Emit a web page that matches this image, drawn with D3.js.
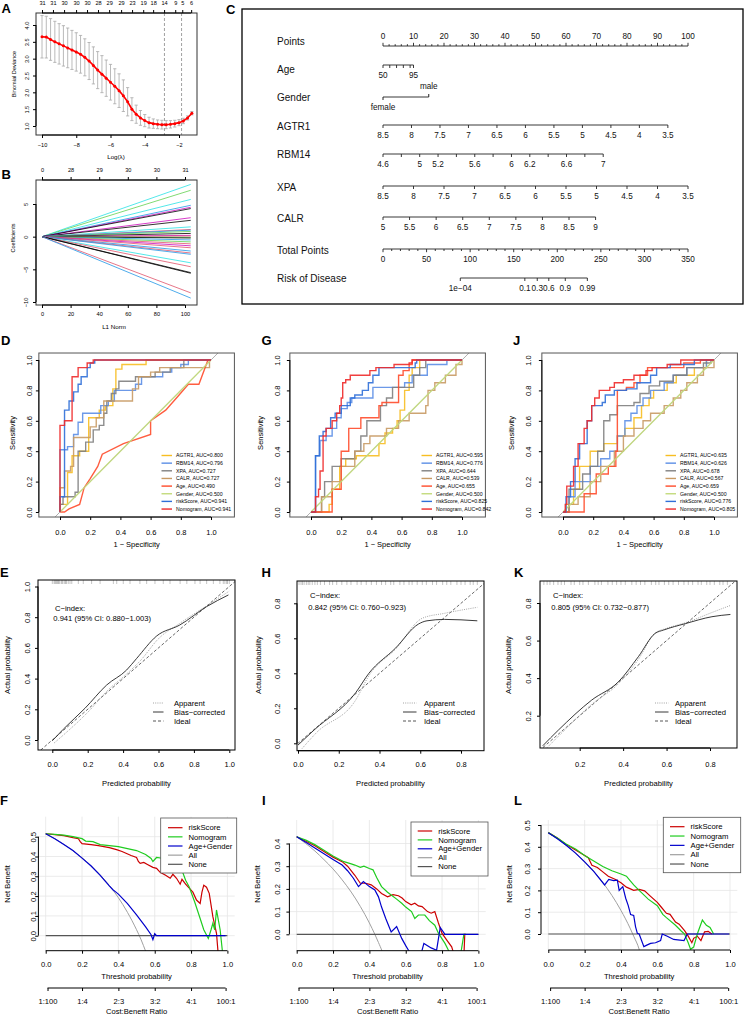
<!DOCTYPE html>
<html>
<head>
<meta charset="utf-8">
<script src="https://cdn.jsdelivr.net/npm/d3@7"></script>
<style>
  body { margin: 0; background: #fff; }
  svg { display: block; }
</style>
</head>
<body>
<script>
// ---------- A: cv.glmnet deviance ----------
const logLambda = [-10, -9.75, -9.5, -9.25, -9, -8.75, -8.5, -8.25, -8, -7.75, -7.5, -7.25, -7, -6.75, -6.5, -6.25, -6, -5.75,
  -5.5, -5.25, -5, -4.75, -4.5, -4.25, -4, -3.75, -3.5, -3.25, -3, -2.75, -2.5, -2.25, -2, -1.75, -1.5, -1.25];
const cvMean = [3.65, 3.64, 3.57, 3.5, 3.44, 3.38, 3.32, 3.26, 3.2, 3.13, 3.04, 2.93, 2.8, 2.66, 2.54, 2.42, 2.3, 2.18,
  2.05, 1.9, 1.72, 1.5, 1.35, 1.24, 1.16, 1.1, 1.07, 1.05, 1.04, 1.04, 1.05, 1.07, 1.1, 1.15, 1.24, 1.38];
const cvSe = [0.63, 0.62, 0.62, 0.61, 0.6, 0.6, 0.59, 0.58, 0.57, 0.56, 0.55, 0.55, 0.55, 0.55, 0.55, 0.54, 0.53, 0.52,
  0.5, 0.47, 0.42, 0.34, 0.27, 0.22, 0.18, 0.16, 0.14, 0.13, 0.13, 0.12, 0.11, 0.1, 0.09, 0.08, 0.06, 0.05];
const lambdaCut = [-2.85, -1.85];
const topLambda = [-10, -9.36, -8.71, -8.01, -7.37, -6.73, -6.08, -5.38, -4.74, -4.09, -3.51, -2.87, -2.22, -1.81, -1.29];
const topCounts = [31, 31, 30, 30, 30, 28, 29, 29, 23, 19, 18, 14, 9, 5, 6];

// ---------- B: coefficient paths ----------
const l1Ticks = [0, 20, 40, 60, 80, 100];
const l1Counts = [0, 28, 29, 30, 30, 31];
const coefEnd = [8.0, 7.1, 5.7, 4.8, 4.5, 4.3, 2.9, 2.5, 1.5, 1.1, 1.0, 0.8, 0.5, 0.2, 0.1, -0.1, -0.2, -0.5, -0.8, -1.1,
  -1.4, -1.7, -2.2, -2.5, -2.7, -4.0, -4.6, -5.5, -5.6, -8.6, -9.4];
const coefColIdx = [4, 2, 4, 3, 5, 0, 5, 0, 4, 1, 3, 2, 0, 5, 1, 2, 0, 3, 2, 1, 5, 1, 3, 1, 3, 4, 1, 0, 0, 1, 3];
const maxL1 = 104;

// ---------- C: nomogram ----------
const nomoRows = ["Points", "Age", "Gender", "AGTR1", "RBM14", "XPA", "CALR", "Total Points", "Risk of Disease"];
const pointsMajor = [0, 10, 20, 30, 40, 50, 60, 70, 80, 90, 100];
const pointsMinor = [2, 4, 6, 8, 12, 14, 16, 18, 22, 24, 26, 28, 32, 34, 36, 38, 42, 44, 46, 48, 52, 54, 56, 58,
  62, 64, 66, 68, 72, 74, 76, 78, 82, 84, 86, 88, 92, 94, 96, 98];
const ageTicks = [50, 60, 70, 80, 90, 95], ageLabels = [50, 95], agePts = [0, 10];
const genderLevels = ["female", "male"], genderPts = [0, 15];
const agtr1Ticks = [8.5, 8, 7.5, 7, 6.5, 6, 5.5, 5, 4.5, 4, 3.5], agtr1Pts = [0, 93.4];
const rbm14Ticks = [4.6, 4.8, 5, 5.2, 5.4, 5.6, 5.8, 6, 6.2, 6.4, 6.6, 6.8, 7];
const rbm14Labels = [4.6, 5, 5.2, 5.6, 6, 6.2, 6.6, 7], rbm14Pts = [0, 72.2];
const xpaTicks = [8.5, 8, 7.5, 7, 6.5, 6, 5.5, 5, 4.5, 4, 3.5], xpaPts = [0, 100];
const calrTicks = [5, 5.5, 6, 6.5, 7, 7.5, 8, 8.5, 9], calrPts = [0, 69.7];
const totalMajor = [0, 50, 100, 150, 200, 250, 300, 350];
const totalMinor = [10, 20, 30, 40, 60, 70, 80, 90, 110, 120, 130, 140, 160, 170, 180, 190, 210, 220, 230, 240,
  260, 270, 280, 290, 310, 320, 330, 340];
const riskTicks = [1e-4, 0.1, 0.3, 0.6, 0.9, 0.99];
const riskLabels = ["1e\u221204", "0.1", "0.3", "0.6", "0.9", "0.99"];
const riskPts = [88.7, 234.5];   // total points at risk 1e-04 and 0.99

// ---------- D / G / J: ROC ----------
const rocNames = ["AGTR1", "RBM14", "XPA", "CALR", "Age", "Gender", "riskScore", "Nomogram"];
const rocColors = ["#F7BE22", "#5C8EE6", "#808080", "#C89A64", "#FF4B2B", "#C3DB7C", "#2F6FD8", "#EE2A2A"];
const aucD = ["0.800", "0.796", "0.727", "0.727", "0.490", "0.500", "0.941", "0.941"];
const aucG = ["0.595", "0.776", "0.644", "0.539", "0.655", "0.500", "0.825", "0.842"];
const aucJ = ["0.635", "0.626", "0.678", "0.567", "0.659", "0.500", "0.776", "0.805"];
const rocD = [
  [[0,0],[0,0.05],[0.05,0.26],[0.08,0.37],[0.13,0.4],[0.19,0.62],[0.26,0.67],[0.3,0.7],[0.35,0.81],[0.37,0.94],[0.41,0.97],[0.57,1],[1,1]],
  [[0,0],[0,0.41],[0.05,0.43],[0.09,0.51],[0.12,0.59],[0.15,0.65],[0.27,0.7],[0.32,0.73],[0.36,0.8],[0.5,0.84],[0.54,0.89],[0.68,0.92],[0.74,0.95],[0.8,0.97],[0.85,1],[1,1]],
  [[0,0],[0,0.05],[0.02,0.1],[0.1,0.13],[0.12,0.4],[0.17,0.46],[0.22,0.54],[0.26,0.57],[0.29,0.65],[0.31,0.73],[0.34,0.78],[0.37,0.81],[0.39,0.86],[0.5,0.89],[0.63,0.92],[0.73,0.95],[0.82,1],[1,1]],
  [[0,0],[0,0.16],[0.03,0.27],[0.07,0.3],[0.09,0.49],[0.2,0.56],[0.24,0.62],[0.29,0.73],[0.48,0.81],[0.52,0.89],[0.6,0.92],[0.66,0.95],[0.99,1],[1,1]],
  [[0,0],[0.03,0],[0.06,0.02],[0.13,0.05],[0.16,0.16],[0.2,0.22],[0.25,0.3],[0.28,0.38],[0.42,0.45],[0.6,0.51],[0.6,0.6],[0.7,0.67],[0.78,0.76],[0.85,0.84],[0.92,0.84],[0.98,1],[1,1]],
  [[0,0],[1,1]],
  [[0,0],[0,0.1],[0.03,0.67],[0.06,0.73],[0.09,0.79],[0.12,0.84],[0.14,0.89],[0.18,0.95],[0.2,0.98],[0.23,1],[1,1]],
  [[0,0],[0,0.57],[0.03,0.6],[0.08,0.89],[0.12,0.95],[0.18,0.98],[0.22,1],[1,1]]
];
const rocG = [
  [[0,0],[0.12,0.05],[0.14,0.15],[0.19,0.3],[0.23,0.35],[0.3,0.37],[0.45,0.45],[0.49,0.52],[0.54,0.55],[0.57,0.6],[0.59,0.67],[0.62,0.8],[0.65,0.9],[0.67,0.95],[0.72,1],[1,1]],
  [[0,0],[0.03,0.37],[0.06,0.47],[0.1,0.5],[0.14,0.55],[0.17,0.62],[0.2,0.68],[0.24,0.72],[0.27,0.75],[0.41,0.82],[0.62,0.85],[0.67,0.9],[0.77,0.97],[0.9,1],[1,1]],
  [[0,0],[0.07,0.1],[0.09,0.2],[0.14,0.3],[0.2,0.35],[0.29,0.4],[0.33,0.5],[0.37,0.6],[0.46,0.7],[0.5,0.75],[0.54,0.82],[0.68,0.9],[0.72,0.95],[0.76,1],[1,1]],
  [[0,0],[0.07,0.1],[0.14,0.2],[0.2,0.3],[0.29,0.4],[0.35,0.45],[0.39,0.5],[0.5,0.55],[0.58,0.6],[0.65,0.65],[0.76,0.7],[0.775,0.8],[0.82,0.85],[0.89,0.9],[0.96,0.97],[1,1]],
  [[0,0],[0.14,0.15],[0.2,0.4],[0.25,0.55],[0.33,0.62],[0.45,0.7],[0.47,0.72],[0.58,0.9],[0.61,0.93],[0.65,0.97],[0.67,1],[1,1]],
  [[0,0],[1,1]],
  [[0,0],[0.03,0.37],[0.055,0.5],[0.08,0.53],[0.1,0.55],[0.13,0.62],[0.16,0.65],[0.2,0.7],[0.26,0.75],[0.29,0.77],[0.34,0.8],[0.38,0.85],[0.41,0.9],[0.45,0.95],[0.69,0.98],[0.7,1],[1,1]],
  [[0,0],[0.03,0.1],[0.05,0.15],[0.06,0.27],[0.08,0.5],[0.1,0.55],[0.14,0.6],[0.17,0.65],[0.19,0.7],[0.2,0.75],[0.21,0.85],[0.23,0.87],[0.26,0.9],[0.39,0.93],[0.43,0.95],[0.55,0.97],[0.65,0.98],[0.67,1],[1,1]]
];
const rocJ = [
  [[0,0],[0.02,0.05],[0.07,0.15],[0.11,0.3],[0.18,0.4],[0.27,0.45],[0.36,0.5],[0.41,0.55],[0.47,0.62],[0.52,0.7],[0.57,0.75],[0.6,0.8],[0.69,0.85],[0.75,0.9],[0.87,0.95],[0.95,1],[1,1]],
  [[0,0],[0.04,0.1],[0.08,0.2],[0.18,0.3],[0.25,0.35],[0.31,0.4],[0.36,0.5],[0.41,0.6],[0.45,0.65],[0.49,0.7],[0.53,0.75],[0.58,0.8],[0.67,0.85],[0.73,0.9],[0.82,0.95],[0.95,1],[1,1]],
  [[0,0],[0.04,0.15],[0.13,0.25],[0.18,0.3],[0.23,0.4],[0.27,0.6],[0.31,0.64],[0.36,0.7],[0.47,0.72],[0.51,0.78],[0.57,0.83],[0.64,0.86],[0.73,0.9],[0.82,0.95],[0.93,0.98],[0.98,1],[1,1]],
  [[0,0],[0.04,0.05],[0.1,0.1],[0.18,0.2],[0.25,0.3],[0.34,0.4],[0.4,0.5],[0.47,0.55],[0.53,0.6],[0.58,0.65],[0.67,0.7],[0.73,0.75],[0.78,0.8],[0.82,0.85],[0.89,0.9],[0.93,0.95],[1,1]],
  [[0,0],[0.14,0.12],[0.22,0.25],[0.3,0.3],[0.35,0.4],[0.36,0.8],[0.42,0.82],[0.47,0.85],[0.51,0.9],[0.56,0.95],[0.8,0.98],[0.91,1],[1,1]],
  [[0,0],[1,1]],
  [[0,0],[0.02,0.1],[0.05,0.2],[0.08,0.35],[0.11,0.45],[0.16,0.6],[0.19,0.7],[0.26,0.72],[0.28,0.77],[0.34,0.8],[0.42,0.81],[0.49,0.85],[0.58,0.9],[0.62,0.95],[0.71,0.97],[0.87,1],[1,1]],
  [[0,0],[0.015,0.05],[0.025,0.17],[0.07,0.3],[0.1,0.45],[0.14,0.55],[0.16,0.6],[0.19,0.7],[0.21,0.75],[0.24,0.8],[0.31,0.82],[0.34,0.85],[0.4,0.87],[0.47,0.9],[0.55,0.93],[0.59,0.95],[0.69,0.97],[0.78,1],[1,1]]
];

// ---------- E / H / K: calibration ----------
const calE_app = [[0.01,-0.02],[0.08,0.05],[0.2,0.18],[0.31,0.32],[0.42,0.43],[0.5,0.52],[0.6,0.66],[0.72,0.76],[0.88,0.88],[1.0,0.97]];
const calE_bias = [[0.0,-0.005],[0.062,0.07],[0.185,0.207],[0.307,0.358],[0.42,0.456],[0.477,0.532],[0.59,0.678],[0.72,0.749],[0.872,0.869],[0.995,0.945]];
const rugE = [0.0, 0.01, 0.015, 0.02, 0.025, 0.03, 0.035, 0.04, 0.05, 0.055, 0.06, 0.07, 0.075, 0.08, 0.09, 0.1, 0.11, 0.147,
  0.175, 0.222, 0.27, 0.345, 0.364, 0.401, 0.439, 0.495, 0.533, 0.58, 0.627, 0.665, 0.722, 0.76, 0.806, 0.835, 0.872,
  0.91, 0.947, 0.966, 0.975, 0.985, 0.99, 1.0];
const calH_app = [[0.02,-0.03],[0.09,0.06],[0.283,0.247],[0.35,0.39],[0.48,0.54],[0.609,0.714],[0.72,0.743],[0.88,0.777]];
const calH_bias = [[0.0,-0.01],[0.079,0.076],[0.283,0.289],[0.348,0.4],[0.478,0.543],[0.592,0.682],[0.633,0.7],[0.72,0.708],[0.88,0.7]];
const rugH = [0.005, 0.015, 0.022, 0.03, 0.041, 0.05, 0.058, 0.07, 0.083, 0.095, 0.11, 0.13, 0.155, 0.17, 0.19, 0.215, 0.24,
  0.26, 0.29, 0.31, 0.335, 0.36, 0.385, 0.41, 0.43, 0.455, 0.47, 0.5, 0.52, 0.545, 0.56, 0.585, 0.61, 0.63, 0.66, 0.68,
  0.71, 0.73, 0.75, 0.78, 0.8, 0.82, 0.845, 0.86, 0.88];
const calK_app = [[0.05,0.03],[0.11,0.1],[0.255,0.26],[0.378,0.37],[0.47,0.5],[0.547,0.64],[0.6,0.665],[0.7,0.7],[0.81,0.75],[0.894,0.787]];
const calK_bias = [[0.03,0.04],[0.1015,0.123],[0.255,0.283],[0.378,0.38],[0.47,0.514],[0.547,0.638],[0.586,0.656],[0.686,0.69],[0.809,0.727],[0.894,0.739]];
const rugK = [0.035, 0.05, 0.063, 0.08, 0.1, 0.115, 0.13, 0.16, 0.175, 0.2, 0.215, 0.24, 0.27, 0.285, 0.3, 0.33, 0.35, 0.37,
  0.39, 0.41, 0.44, 0.46, 0.48, 0.5, 0.53, 0.55, 0.565, 0.59, 0.61, 0.63, 0.655, 0.68, 0.7, 0.72, 0.745, 0.76, 0.785,
  0.8, 0.82, 0.845, 0.86, 0.88];

// ---------- F / I / L: decision curves ----------
const dcaNames = ["riskScore", "Nomogram", "Age+Gender", "All", "None"];
const dcaColors = ["#CC0000", "#1FCC1F", "#0000CC", "#A0A0A0", "#555555"];
const cbTicks = [0.01, 0.2, 0.4, 0.6, 0.8, 0.99];
const cbLabels = ["1:100", "1:4", "2:3", "3:2", "4:1", "100:1"];
const dcaF_risk = [[0,0.515],[0.05,0.51],[0.1,0.505],[0.15,0.495],[0.18,0.49],[0.19,0.475],[0.2,0.465],[0.25,0.46],[0.29,0.455],
  [0.35,0.445],[0.39,0.435],[0.42,0.425],[0.445,0.415],[0.47,0.405],[0.5,0.395],[0.51,0.375],[0.52,0.365],[0.54,0.37],[0.56,0.36],
  [0.59,0.345],[0.61,0.34],[0.63,0.32],[0.66,0.305],[0.685,0.29],[0.7,0.31],[0.72,0.29],[0.74,0.26],[0.75,0.285],[0.77,0.26],
  [0.79,0.24],[0.81,0.22],[0.83,0.18],[0.85,0.163],[0.86,0.22],[0.87,0.255],[0.885,0.245],[0.9,0.214],[0.92,0.096],[0.94,0.012],[0.95,-0.1]];
const dcaF_nomo = [[0,0.515],[0.05,0.512],[0.1,0.508],[0.15,0.5],[0.2,0.49],[0.22,0.478],[0.26,0.475],[0.3,0.46],[0.35,0.455],
  [0.4,0.45],[0.45,0.44],[0.5,0.43],[0.55,0.41],[0.58,0.39],[0.59,0.375],[0.61,0.395],[0.65,0.39],[0.7,0.37],[0.72,0.36],
  [0.75,0.33],[0.77,0.28],[0.79,0.246],[0.82,0.17],[0.85,0.087],[0.87,0.03],[0.895,-0.014],[0.91,0.03],[0.92,0.063],[0.93,0.03],
  [0.94,0.13],[0.96,0.03],[0.975,-0.1]];
const dcaF_age = [[0,0.515],[0.05,0.49],[0.1,0.461],[0.15,0.43],[0.2,0.392],[0.25,0.352],[0.3,0.305],[0.35,0.252],[0.37,0.232],
  [0.38,0.225],[0.4,0.21],[0.45,0.162],[0.5,0.105],[0.55,0.045],[0.58,0.005],[0.59,-0.02],[0.6,0.01],[0.61,0.0],[0.99,0.0]];
const dcaF_all = [[0,0.515],[0.05,0.49],[0.1,0.461],[0.15,0.429],[0.2,0.394],[0.25,0.353],[0.3,0.307],[0.35,0.254],[0.4,0.192],
  [0.45,0.118],[0.5,0.03],[0.525,-0.02],[0.55,-0.078],[0.56,-0.1]];
const dcaI_risk = [[0,0.43],[0.05,0.41],[0.1,0.39],[0.15,0.365],[0.2,0.34],[0.25,0.32],[0.28,0.3],[0.32,0.26],[0.35,0.225],
  [0.38,0.225],[0.41,0.218],[0.44,0.2],[0.467,0.18],[0.5,0.165],[0.53,0.175],[0.56,0.17],[0.58,0.16],[0.6,0.144],[0.63,0.13],
  [0.65,0.137],[0.67,0.125],[0.69,0.122],[0.72,0.1],[0.74,0.093],[0.76,0.1],[0.78,0.05],[0.8,0.004],[0.83,-0.03],[0.853,-0.055],
  [0.87,-0.1],[0.92,-0.1],[0.925,0],[0.93,0]];
const dcaI_nomo = [[0,0.43],[0.05,0.415],[0.1,0.395],[0.15,0.37],[0.2,0.345],[0.26,0.32],[0.3,0.31],[0.32,0.305],[0.35,0.295],
  [0.37,0.3],[0.4,0.29],[0.42,0.284],[0.44,0.25],[0.467,0.21],[0.5,0.185],[0.52,0.173],[0.55,0.155],[0.578,0.137],[0.6,0.12],
  [0.632,0.1],[0.65,0.07],[0.67,0.085],[0.705,0.085],[0.73,0.06],[0.76,0.04],[0.78,0.005],[0.8,-0.02],[0.816,-0.04],[0.835,-0.07],
  [0.85,-0.1],[0.9,-0.1],[0.92,0],[0.93,0]];
const dcaI_age = [[0,0.43],[0.05,0.405],[0.1,0.38],[0.15,0.355],[0.2,0.33],[0.25,0.305],[0.28,0.28],[0.312,0.247],[0.34,0.21],
  [0.367,0.232],[0.4,0.21],[0.43,0.195],[0.45,0.165],[0.467,0.12],[0.49,0.07],[0.52,0.01],[0.55,0.034],[0.578,-0.018],
  [0.6,-0.05],[0.615,-0.07],[0.64,-0.1],[0.68,-0.1],[0.7,-0.04],[0.74,-0.06],[0.77,-0.07],[0.79,0.03],[0.816,0],[1.0,0]];
const dcaI_all = [[0,0.43],[0.05,0.4],[0.1,0.367],[0.15,0.329],[0.2,0.288],[0.25,0.24],[0.3,0.186],[0.35,0.123],[0.4,0.05],
  [0.43,0.0],[0.45,-0.036],[0.47,-0.075],[0.48,-0.1]];
const dcaL_risk = [[0,0.465],[0.05,0.44],[0.1,0.41],[0.15,0.385],[0.2,0.36],[0.22,0.35],[0.24,0.315],[0.27,0.305],[0.3,0.285],
  [0.33,0.265],[0.37,0.25],[0.4,0.235],[0.43,0.215],[0.47,0.2],[0.5,0.205],[0.53,0.198],[0.56,0.175],[0.6,0.145],[0.62,0.125],
  [0.65,0.095],[0.67,0.09],[0.7,0.055],[0.72,0.045],[0.75,0.015],[0.77,-0.01],[0.79,-0.04],[0.8,-0.02],[0.82,-0.01],[0.84,-0.03],
  [0.86,0.01],[0.88,0.012],[0.9,0.0]];
const dcaL_nomo = [[0,0.465],[0.05,0.44],[0.1,0.412],[0.15,0.39],[0.2,0.36],[0.25,0.335],[0.3,0.31],[0.35,0.29],[0.4,0.275],
  [0.43,0.265],[0.45,0.245],[0.47,0.225],[0.5,0.2],[0.55,0.16],[0.6,0.13],[0.63,0.09],[0.65,0.075],[0.7,0.04],[0.73,0.015],
  [0.75,0.0],[0.77,-0.04],[0.783,-0.07],[0.8,-0.06],[0.82,0.0],[0.848,0.064],[0.87,0.04],[0.89,0.03],[0.91,0.0]];
const dcaL_age = [[0,0.465],[0.05,0.437],[0.1,0.406],[0.15,0.371],[0.2,0.331],[0.25,0.287],[0.31,0.225],[0.333,0.25],[0.36,0.245],
  [0.38,0.247],[0.39,0.2],[0.41,0.217],[0.426,0.164],[0.44,0.13],[0.453,0.089],[0.47,0.085],[0.48,0.034],[0.49,0.003],[0.5,0.0],
  [0.526,-0.058],[0.545,-0.05],[0.563,-0.043],[0.59,-0.04],[0.618,-0.03],[0.627,0.0],[0.655,-0.01],[0.69,-0.025],[0.747,-0.03],
  [0.765,0.0],[0.995,0.0]];
const dcaL_all = [[0,0.465],[0.05,0.437],[0.1,0.406],[0.15,0.371],[0.2,0.331],[0.25,0.287],[0.3,0.236],[0.35,0.177],[0.4,0.108],
  [0.45,0.027],[0.47,-0.01],[0.5,-0.07],[0.51,-0.1]];

// ================= drawing =================
const FONT = "'Liberation Sans', Arial, Helvetica, sans-serif";
const svg = d3.select("body").append("svg")
  .attr("width", 744).attr("height", 1015)
  .attr("font-family", FONT);
const f1 = d3.format(".1f");

function label(g, x, y, s, size, anchor = "middle") {
  return g.append("text").attr("x", x).attr("y", y).attr("dy", "0.35em")
    .attr("font-size", size).attr("text-anchor", anchor).text(s);
}
function vlabel(g, x, y, s, size) {
  return g.append("text").attr("transform", `translate(${x},${y}) rotate(-90)`)
    .attr("dy", "0.35em").attr("font-size", size).attr("text-anchor", "middle").text(s);
}
function box(g, x0, y0, x1, y1, col, w = 1) {
  g.append("rect").attr("x", x0).attr("y", y0).attr("width", x1 - x0).attr("height", y1 - y0)
    .attr("fill", "none").attr("stroke", col).attr("stroke-width", w);
}
function clip(id, x0, y0, x1, y1) {
  svg.append("clipPath").attr("id", id).append("rect")
    .attr("x", x0).attr("y", y0).attr("width", x1 - x0).attr("height", y1 - y0);
  return `url(#${id})`;
}
// R style axes: line only between first and last tick
function axisH(g, scale, y, ticks, fmt, size, labelY, top = false, col = "#000") {
  const ax = (top ? d3.axisTop(scale) : d3.axisBottom(scale)).tickValues(ticks).tickSize(3).tickFormat(fmt);
  const ag = g.append("g").attr("transform", `translate(0,${y})`).call(ax)
    .attr("font-size", size).attr("font-family", FONT);
  ag.select(".domain").remove();
  ag.append("line").attr("x1", scale(ticks[0])).attr("x2", scale(ticks[ticks.length - 1])).attr("stroke", col);
  ag.selectAll(".tick line").attr("stroke", col);
  ag.selectAll(".tick text").attr("y", labelY - y).attr("dy", "0.35em").attr("fill", "#000");
  return ag;
}
function axisV(g, scale, x, ticks, fmt, size, labelX, col = "#000") {
  const ag = g.append("g").attr("transform", `translate(${x},0)`)
    .call(d3.axisLeft(scale).tickValues(ticks).tickSize(3).tickFormat(fmt))
    .attr("font-size", size).attr("font-family", FONT);
  ag.select(".domain").remove();
  ag.append("line").attr("y1", scale(ticks[0])).attr("y2", scale(ticks[ticks.length - 1])).attr("stroke", col);
  ag.selectAll(".tick line").attr("stroke", col);
  ag.selectAll(".tick text").attr("x", null).attr("dy", "0.35em").attr("text-anchor", "middle")
    .attr("transform", `translate(${labelX - x},0) rotate(-90)`).attr("fill", "#000");
  return ag;
}
function panelLetter(x, y, s) {
  label(svg, x, y, s, 13, "start").attr("font-weight", "bold");
}

// ---------- Panel A ----------
{
  const g = svg.append("g");
  const x = d3.scaleLinear().domain([-10, -2]).range([42, 179]);
  const y = d3.scaleLinear().domain([1, 4]).range([126, 25]);
  lambdaCut.forEach(v => g.append("line").attr("x1", x(v)).attr("x2", x(v)).attr("y1", 13).attr("y2", 135)
    .attr("stroke", "#777").attr("stroke-width", 0.7).attr("stroke-dasharray", "3,2"));
  const rows = logLambda.map((l, i) => ({ l, m: cvMean[i], s: cvSe[i] }));
  g.selectAll("line.eb").data(rows).join("line").attr("class", "eb")
    .attr("x1", d => x(d.l)).attr("x2", d => x(d.l))
    .attr("y1", d => y(d.m - d.s)).attr("y2", d => y(d.m + d.s))
    .attr("stroke", "#A8A8A8").attr("stroke-width", 0.8);
  ["lo", "hi"].forEach(k => g.selectAll("line.cap" + k).data(rows).join("line").attr("class", "cap" + k)
    .attr("x1", d => x(d.l) - 1.6).attr("x2", d => x(d.l) + 1.6)
    .attr("y1", d => y(k === "lo" ? d.m - d.s : d.m + d.s)).attr("y2", d => y(k === "lo" ? d.m - d.s : d.m + d.s))
    .attr("stroke", "#A8A8A8").attr("stroke-width", 0.8));
  g.append("path").attr("d", d3.line().x(d => x(d.l)).y(d => y(d.m))(rows))
    .attr("fill", "none").attr("stroke", "#FF0000").attr("stroke-width", 1.6);
  g.selectAll("circle").data(rows).join("circle")
    .attr("cx", d => x(d.l)).attr("cy", d => y(d.m)).attr("r", 1.5).attr("fill", "#FF0000");
  box(g, 36, 13, 197, 135, "#333");
  axisH(g, x, 135, [-10, -8, -6, -4, -2], d3.format("d"), 5.6, 145);
  axisV(g, y, 36, [1, 1.5, 2, 2.5, 3, 3.5, 4], f1, 5.6, 27);
  axisH(g, x, 13, topLambda, (d, i) => topCounts[i], 5.6, 3, true);
  label(g, 116, 157, "Log(\u03bb)", 6.2);
  vlabel(g, 14, 74, "Binomial Deviance", 5.6);
  panelLetter(1.5, 8.5, "A");
}

// ---------- Panel B ----------
{
  const g = svg.append("g");
  const x = d3.scaleLinear().domain([0, 100]).range([42, 185]);
  const y = d3.scaleLinear().domain([-10, 5]).range([302, 204]);
  const pal = ["#000000", "#DF536B", "#61D04F", "#2297E6", "#28E2E5", "#CD0BBC"];
  const cp = clip("clipB", 36, 180, 197, 305);
  const line = d3.line().x(d => x(d[0])).y(d => y(d[1]));
  g.append("g").attr("clip-path", cp).selectAll("path").data(coefEnd).join("path")
    .attr("d", v => line([[0, 0], [maxL1, v]]))
    .attr("fill", "none").attr("stroke-width", 0.8)
    .attr("stroke", (v, i) => pal[coefColIdx[i]]);
  box(g, 36, 180, 197, 305, "#333");
  axisH(g, x, 305, l1Ticks, d3.format("d"), 5.6, 314);
  axisV(g, y, 36, [-10, -5, 0, 5], d3.format("d"), 5.6, 26);
  axisH(g, x, 180, l1Ticks, (d, i) => l1Counts[i], 5.6, 170, true);
  label(g, 114, 327, "L1 Norm", 6.2);
  vlabel(g, 13, 238, "Coefficients", 5.6);
  panelLetter(1.5, 174, "B");
}

// ---------- Panel C: nomogram ----------
{
  const g = svg.append("g");
  const pts = d3.scaleLinear().domain([0, 100]).range([383, 688]);
  const tot = d3.scaleLinear().domain([0, 350]).range([383, 688]);
  box(g, 242, 9, 743, 304, "#000", 1.3);
  const rowY = [41, 69, 97, 126, 154, 187, 218, 250, 278];
  nomoRows.forEach((r, i) => label(g, 277, rowY[i], r, 10, "start").attr("fill", "#111"));
  const ink = "#222";
  function hline(x1, x2, y) {
    g.append("line").attr("x1", x1).attr("x2", x2).attr("y1", y).attr("y2", y).attr("stroke", ink).attr("stroke-width", 0.9);
  }
  function ticks(sc, vals, y, len) {
    g.append("g").selectAll("line").data(vals).join("line")
      .attr("x1", d => sc(d)).attr("x2", d => sc(d)).attr("y1", y).attr("y2", y + len)
      .attr("stroke", ink).attr("stroke-width", 0.9);
  }
  function labs(sc, vals, y, fmt, size = 8.2) {
    g.append("g").selectAll("text").data(vals).join("text")
      .attr("x", d => sc(d)).attr("y", y).attr("dy", "0.35em").attr("font-size", size)
      .attr("text-anchor", "middle").attr("fill", "#111").text(fmt);
  }
  function varAxis(vals, ptsRange, lineY, labelVals) {
    const sc = d3.scaleLinear().domain([vals[0], vals[vals.length - 1]]).range([pts(ptsRange[0]), pts(ptsRange[1])]);
    hline(sc(vals[0]), sc(vals[vals.length - 1]), lineY);
    ticks(sc, vals, lineY, 3);
    labs(sc, labelVals || vals, lineY + 10, d => d);
  }
  // Points
  hline(pts(0), pts(100), 46);
  ticks(pts, pointsMajor, 46, -3.2);
  ticks(pts, pointsMinor, 46, -1.8);
  labs(pts, pointsMajor, 36, d => d);
  // Age
  varAxis(ageTicks, agePts, 65, ageLabels);
  // Gender
  {
    const sc = d3.scaleOrdinal().domain(genderLevels).range(genderPts.map(pts));
    hline(sc("female"), sc("male"), 97);
    g.append("line").attr("x1", sc("female")).attr("x2", sc("female")).attr("y1", 97).attr("y2", 100).attr("stroke", ink);
    g.append("line").attr("x1", sc("male")).attr("x2", sc("male")).attr("y1", 97).attr("y2", 94).attr("stroke", ink);
    label(g, sc("male"), 86, "male", 8.2).attr("fill", "#111");
    label(g, sc("female"), 107, "female", 8.2).attr("fill", "#111");
  }
  varAxis(agtr1Ticks, agtr1Pts, 125);
  varAxis(rbm14Ticks, rbm14Pts, 154, rbm14Labels);
  varAxis(xpaTicks, xpaPts, 186);
  varAxis(calrTicks, calrPts, 217);
  // Total points
  hline(tot(0), tot(350), 249);
  ticks(tot, totalMajor, 249, 3.2);
  ticks(tot, totalMinor, 249, 2);
  labs(tot, totalMajor, 259, d => d);
  // Risk
  {
    const logit = p => Math.log(p / (1 - p));
    const lp = d3.scaleLinear().domain([logit(riskTicks[0]), logit(riskTicks[riskTicks.length - 1])])
      .range([tot(riskPts[0]), tot(riskPts[1])]);
    const sc = p => lp(logit(p));
    hline(sc(riskTicks[0]), sc(riskTicks[riskTicks.length - 1]), 278);
    ticks(sc, riskTicks, 278, 3);
    labs(sc, riskTicks, 288, (d, i) => riskLabels[i]);
  }
  panelLetter(226, 9, "C");
}

// ---------- ROC panels ----------
function rocPanel(cfg) {
  const g = svg.append("g");
  const x = d3.scaleLinear().domain([0, 1]).range([cfg.x0, cfg.x0 + 151]);
  const y = d3.scaleLinear().domain([0, 1]).range([512, 360]);
  const bx0 = x(-0.14), bx1 = x(1.155), by0 = y(1.046), by1 = y(-0.033);
  const pg = g.append("g").attr("clip-path", clip(cfg.id, bx0, by0, bx1, by1));
  pg.append("line").attr("x1", x(-0.3)).attr("y1", y(-0.3)).attr("x2", x(1.3)).attr("y2", y(1.3))
    .attr("stroke", "#A6A6A6").attr("stroke-width", 0.9);
  rocNames.forEach((nm, i) => {
    const ln = d3.line().x(d => x(d[0])).y(d => y(d[1]))
      .curve(cfg.linear.includes(nm) ? d3.curveLinear : d3.curveStepAfter);
    pg.append("path").attr("d", ln(cfg.curves[i])).attr("fill", "none")
      .attr("stroke", rocColors[i]).attr("stroke-width", 1.4).attr("stroke-opacity", 0.9);
  });
  box(g, bx0, by0, bx1, by1, "#555");
  axisH(g, x, by1, [0, 0.2, 0.4, 0.6, 0.8, 1], f1, 7.5, 532);
  axisV(g, y, bx0, [0, 0.2, 0.4, 0.6, 0.8, 1], f1, 7.5, cfg.ytX);
  label(g, (bx0 + bx1) / 2, 544, "1 \u2212 Specificity", 7.5);
  vlabel(g, cfg.ylabX, 433, "Sensitivity", 7.5);
  rocNames.forEach((nm, i) => {
    const ly = 455.5 + i * 7.65;
    g.append("line").attr("x1", cfg.legX).attr("x2", cfg.legX + 10.5).attr("y1", ly).attr("y2", ly)
      .attr("stroke", rocColors[i]).attr("stroke-width", 1.4);
    label(g, cfg.legX + 14.5, ly, `${nm}, AUC=${cfg.auc[i]}`, 5.2, "start");
  });
  panelLetter(cfg.lx, 340.5, cfg.letter);
}
rocPanel({ id: "clipD", x0: 60, curves: rocD, auc: aucD, linear: ["Age", "Gender"], ytX: 29, ylabX: 12, legX: 161.5, lx: 1, letter: "D" });
rocPanel({ id: "clipG", x0: 311, curves: rocG, auc: aucG, linear: ["Gender"], ytX: 277, ylabX: 260, legX: 421.5, lx: 261.5, letter: "G" });
rocPanel({ id: "clipJ", x0: 563, curves: rocJ, auc: aucJ, linear: ["Gender"], ytX: 528, ylabX: 511, legX: 665.5, lx: 513, letter: "J" });

// ---------- Calibration panels ----------
function calPanel(cfg) {
  const g = svg.append("g");
  const x = d3.scaleLinear().domain(cfg.xd).range(cfg.xr);
  const y = d3.scaleLinear().domain(cfg.yd).range(cfg.yr);
  const [b0, b1, b2, b3] = cfg.box;
  const pg = g.append("g").attr("clip-path", clip(cfg.id, b0, b1, b2, b3));
  pg.append("line").attr("x1", x(-0.3)).attr("y1", y(-0.3)).attr("x2", x(1.3)).attr("y2", y(1.3))
    .attr("stroke", "#444").attr("stroke-width", 0.8).attr("stroke-dasharray", "3,2");
  const ln = d3.line().x(d => x(d[0])).y(d => y(d[1])).curve(d3.curveMonotoneX);
  pg.append("path").attr("d", ln(cfg.app)).attr("fill", "none").attr("stroke", "#9A9A9A")
    .attr("stroke-width", 0.9).attr("stroke-dasharray", "1,1.2");
  pg.append("path").attr("d", ln(cfg.bias)).attr("fill", "none").attr("stroke", "#222").attr("stroke-width", 0.9);
  pg.selectAll("line.rug").data(cfg.rug).join("line").attr("class", "rug")
    .attr("x1", d => x(d)).attr("x2", d => x(d)).attr("y1", b1).attr("y2", b1 + 4)
    .attr("stroke", "#8A8A8A").attr("stroke-width", 0.5);
  box(g, b0, b1, b2, b3, "#000");
  axisH(g, x, b3, cfg.ticks, f1, 7.5, 764);
  axisV(g, y, b0, cfg.ticks, f1, 7.5, cfg.ytX);
  label(g, (b0 + b2) / 2, 783, "Predicted probability", 7.6);
  vlabel(g, cfg.ylabX, 665, "Actual probability", 7.6);
  label(g, cfg.cx, 595 + cfg.cdy, "C\u2212index:", 7.6, "start");
  label(g, cfg.cx - 1.7, 607 + cfg.cdy2, cfg.ci, 7.6, "start");
  const styles = [["Apparent", "#9A9A9A", "1,1.2"], ["Bias\u2212corrected", "#222", null], ["Ideal", "#444", "3,2"]];
  styles.forEach((s, i) => {
    const ly = 703 + i * 9;
    g.append("line").attr("x1", cfg.legX).attr("x2", cfg.legX + cfg.legW).attr("y1", ly).attr("y2", ly)
      .attr("stroke", s[1]).attr("stroke-width", 0.9).attr("stroke-dasharray", s[2]);
    label(g, cfg.legT, ly, s[0], 7.6, "start");
  });
  panelLetter(cfg.lx, 572, cfg.letter);
}
calPanel({ id: "clipE", xd: [0, 1], xr: [52.3, 229.3], yd: [0, 1], yr: [740, 586.5], box: [38, 580, 235, 750],
  ticks: [0, 0.2, 0.4, 0.6, 0.8, 1], app: calE_app, bias: calE_bias, rug: rugE, ytX: 27, ylabX: 7,
  cx: 55, cdy: 13, cdy2: 11, ci: "0.941 (95% CI: 0.880\u22121.003)", legX: 153, legW: 10.5, legT: 174, lx: 0, letter: "E" });
calPanel({ id: "clipH", xd: [0, 0.8], xr: [298, 461], yd: [0, 0.8], yr: [743.3, 603.3], box: [297, 581, 484, 750.7],
  ticks: [0, 0.2, 0.4, 0.6, 0.8], app: calH_app, bias: calH_bias, rug: rugH, ytX: 277, ylabX: 258,
  cx: 310, cdy: 0, cdy2: 0, ci: "0.842 (95% CI: 0.760\u22120.923)", legX: 403, legW: 13.5, legT: 424, lx: 261.5, letter: "H" });
calPanel({ id: "clipK", xd: [0.2, 0.8], xr: [579.7, 710], yd: [0.2, 0.8], yr: [715.7, 603], box: [540, 581, 737, 748],
  ticks: [0.2, 0.4, 0.6, 0.8], app: calK_app, bias: calK_bias, rug: rugK, ytX: 528, ylabX: 508,
  cx: 553, cdy: 0, cdy2: 0, ci: "0.805 (95% CI: 0.732\u22120.877)", legX: 655, legW: 13.5, legT: 675, lx: 514, letter: "K" });

// ---------- Decision curve panels ----------
function dcaPanel(cfg) {
  const g = svg.append("g");
  const x = d3.scaleLinear().domain([0, 1]).range(cfg.xr);
  const y = d3.scaleLinear().domain([0, cfg.ytop]).range(cfg.yr);
  const [r0, r1, r2, r3] = cfg.region;
  const gy = cfg.yt;
  g.selectAll("line.gh").data(gy).join("line").attr("class", "gh")
    .attr("x1", r0).attr("x2", r2).attr("y1", d => y(d)).attr("y2", d => y(d))
    .attr("stroke", "#E6E6E6").attr("stroke-width", 0.8);
  g.selectAll("line.gv").data([0, 0.2, 0.4, 0.6, 0.8, 1]).join("line").attr("class", "gv")
    .attr("x1", d => x(d)).attr("x2", d => x(d)).attr("y1", r1).attr("y2", r3)
    .attr("stroke", "#E6E6E6").attr("stroke-width", 0.8);
  const pg = g.append("g").attr("clip-path", clip(cfg.id, r0, r1, r2, r3));
  const ln = d3.line().x(d => x(d[0])).y(d => y(d[1]));
  const lnS = d3.line().x(d => x(d[0])).y(d => y(d[1])).curve(d3.curveMonotoneX);
  pg.append("path").attr("d", lnS(cfg.all)).attr("fill", "none").attr("stroke", dcaColors[3]).attr("stroke-width", 1);
  pg.append("path").attr("d", ln([[0, 0], [1, 0]])).attr("fill", "none").attr("stroke", dcaColors[4]).attr("stroke-width", 1.2);
  [cfg.risk, cfg.nomo, cfg.age].forEach((s, i) => pg.append("path").attr("d", ln(s)).attr("fill", "none")
    .attr("stroke", dcaColors[i]).attr("stroke-width", 1.2));
  axisH(g, x, r3, [0, 0.2, 0.4, 0.6, 0.8, 1], f1, 7.6, 964.5);
  axisV(g, y, r0, gy, f1, 7.6, cfg.ytX);
  label(g, (x(0) + x(1)) / 2, 976, "Threshold probability", 7.6);
  axisH(g, x, 988, cbTicks, (d, i) => cbLabels[i], 7.6, 1001);
  label(g, (x(0) + x(1)) / 2, 1011, "Cost:Benefit Ratio", 7.6);
  vlabel(g, cfg.ylabX, 884, "Net Benefit", 7.6);
  const [l0, l1, l2, l3] = cfg.leg;
  g.append("rect").attr("x", l0).attr("y", l1).attr("width", l2 - l0).attr("height", l3 - l1)
    .attr("fill", "#fff").attr("stroke", "#555").attr("stroke-width", 0.8);
  dcaNames.forEach((nm, i) => {
    const ly = cfg.legY + i * cfg.legStep;
    g.append("line").attr("x1", cfg.legX).attr("x2", cfg.legX + 14.5).attr("y1", ly).attr("y2", ly)
      .attr("stroke", dcaColors[i]).attr("stroke-width", 1.2);
    label(g, cfg.legX + 20.5, ly, nm, 7.7, "start");
  });
  panelLetter(cfg.lx, 800, cfg.letter);
}
dcaPanel({ id: "clipF", xr: [45.7, 227.4], ytop: 0.5, yr: [935.7, 836.7], region: [38.4, 816.7, 234.7, 950.7],
  yt: [0, 0.1, 0.2, 0.3, 0.4, 0.5], risk: dcaF_risk, nomo: dcaF_nomo, age: dcaF_age, all: dcaF_all,
  ytX: 33, ylabX: 7, leg: [160.7, 818, 236.7, 873], legY: 827.7, legStep: 9.15, legX: 168, lx: 0, letter: "F" });
dcaPanel({ id: "clipI", xr: [296.7, 478.4], ytop: 0.4, yr: [934.3, 843.5], region: [289.4, 820, 485.7, 950.7],
  yt: [0, 0.1, 0.2, 0.3, 0.4], risk: dcaI_risk, nomo: dcaI_nomo, age: dcaI_age, all: dcaI_all,
  ytX: 277, ylabX: 257, leg: [411, 822, 488, 876], legY: 831, legStep: 8.9, legX: 417.7, lx: 262, letter: "I" });
dcaPanel({ id: "clipL", xr: [548.3, 730], ytop: 0.5, yr: [934, 825], region: [541, 820, 737.3, 950],
  yt: [0, 0.1, 0.2, 0.3, 0.4, 0.5], risk: dcaL_risk, nomo: dcaL_nomo, age: dcaL_age, all: dcaL_all,
  ytX: 527, ylabX: 509, leg: [663.3, 817.3, 740.7, 872.7], legY: 826.7, legStep: 9.33, legX: 670, lx: 514, letter: "L" });
</script>
</body>
</html>
